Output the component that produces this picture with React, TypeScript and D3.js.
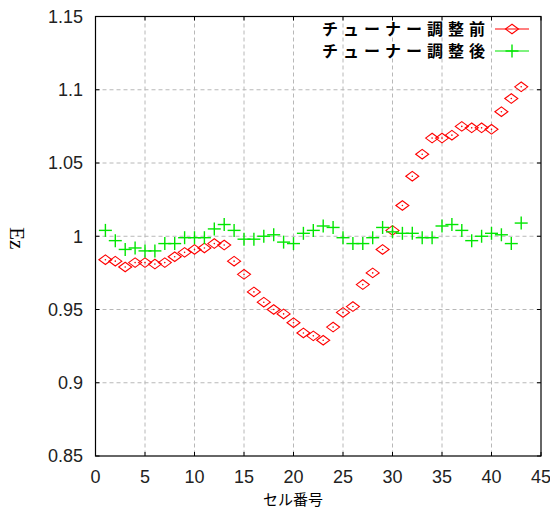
import React from "react";
import * as d3 from "d3";

// チューナー調整前 / 調整後 の Ez (セル番号 1..43)
const before = [
  0.984, 0.983, 0.979, 0.982, 0.982, 0.981, 0.982, 0.986, 0.989, 0.991, 0.992, 0.995, 0.994,
  0.983, 0.974, 0.962, 0.955, 0.95, 0.947, 0.941, 0.934, 0.932, 0.929,
  0.938, 0.948, 0.952, 0.967, 0.975, 0.991, 1.004, 1.021, 1.041, 1.056,
  1.067, 1.067, 1.069, 1.075, 1.074, 1.074, 1.073, 1.085, 1.094, 1.102,
];
const after = [
  1.004, 0.997, 0.991, 0.992, 0.99, 0.99, 0.995, 0.995, 0.999, 0.999, 0.999, 1.005, 1.008, 1.004,
  0.998, 0.998, 1.0, 1.001, 0.996, 0.995, 1.002, 1.004, 1.007, 1.006,
  0.999, 0.995, 0.995, 0.999, 1.006, 1.003, 1.002, 1.002, 0.999, 0.999,
  1.007, 1.008, 1.004, 0.997, 1.0, 1.002, 1.001, 0.995, 1.009,
];
const cells = before.map((_, i) => i + 1);

const xTicks = [0, 5, 10, 15, 20, 25, 30, 35, 40, 45];
const yTicks = [0.85, 0.9, 0.95, 1, 1.05, 1.1, 1.15];
const yTickLabels = ["0.85", "0.9", "0.95", "1", "1.05", "1.1", "1.15"];
const legendLabels = ["チューナー調整前", "チューナー調整後"];

const RED = "#ff0000";
const GREEN = "#00e600";

const W = 550;
const H = 509;
const left = 95.5;
const right = 541;
const top = 16.5;
const bottom = 456;

const x = d3.scaleLinear().domain([0, 45]).range([left, right]);
const y = d3.scaleLinear().domain([0.85, 1.15]).range([bottom, top]);

const diamond = (cx: number, cy: number) =>
  `M${cx - 6.5},${cy}L${cx},${cy - 4.8}L${cx + 6.5},${cy}L${cx},${cy + 4.8}Z`;

const Cross = ({ cx, cy }: { cx: number; cy: number }) => (
  <g stroke={GREEN} strokeWidth={1.4}>
    <line x1={cx - 6.5} x2={cx + 6.5} y1={cy} y2={cy} />
    <line x1={cx} x2={cx} y1={cy - 6.5} y2={cy + 6.5} />
  </g>
);

export default function App() {
  const tickFont = "'Liberation Sans', Arial, sans-serif";
  const cjkFont = "'Noto Sans CJK JP', sans-serif";
  return (
    <svg
      width={W}
      height={H}
      style={{ position: "absolute", left: 0, top: 0, background: "#fff" }}
    >
      <rect width={W} height={H} fill="#fff" />

      {/* grid */}
      <g stroke="#b8b8b8" strokeDasharray="4,3" strokeWidth={1}>
        {xTicks.slice(1, -1).map((t) => (
          <line key={"gx" + t} x1={x(t)} x2={x(t)} y1={top} y2={bottom} />
        ))}
        {yTicks.slice(1, -1).map((t) => (
          <line key={"gy" + t} x1={left} x2={right} y1={y(t)} y2={y(t)} />
        ))}
      </g>

      {/* ticks */}
      <g stroke="#000" strokeWidth={1}>
        {xTicks.map((t) => (
          <g key={"tx" + t}>
            <line x1={x(t)} x2={x(t)} y1={bottom} y2={bottom - 4} />
            <line x1={x(t)} x2={x(t)} y1={top} y2={top + 4} />
          </g>
        ))}
        {yTicks.map((t) => (
          <g key={"ty" + t}>
            <line x1={left} x2={left + 4} y1={y(t)} y2={y(t)} />
            <line x1={right} x2={right - 4} y1={y(t)} y2={y(t)} />
          </g>
        ))}
      </g>

      {/* data: before */}
      <g fill="none" stroke={RED} strokeWidth={1.1}>
        {before.map((v, i) => (
          <path key={"b" + i} d={diamond(x(cells[i]), y(v))} />
        ))}
      </g>
      <g fill={RED}>
        {before.map((v, i) => (
          <circle key={"bd" + i} cx={x(cells[i])} cy={y(v)} r={0.8} />
        ))}
      </g>

      {/* data: after */}
      {after.map((v, i) => (
        <Cross key={"a" + i} cx={x(cells[i])} cy={y(v)} />
      ))}

      {/* frame */}
      <rect
        x={left}
        y={top}
        width={right - left}
        height={bottom - top}
        fill="none"
        stroke="#000"
        strokeWidth={1.2}
      />

      {/* tick labels */}
      <g fontFamily={tickFont} fontSize={18} fill="#222">
        {yTicks.map((t, i) => (
          <text key={"ly" + t} x={83} y={y(t)} dy="0.35em" textAnchor="end">
            {yTickLabels[i]}
          </text>
        ))}
        {xTicks.map((t) => (
          <text key={"lx" + t} x={x(t)} y={483} textAnchor="middle">
            {t}
          </text>
        ))}
      </g>

      {/* axis titles */}
      <text
        x={293}
        y={504.5}
        textAnchor="middle"
        fontFamily={cjkFont}
        fontSize={15}
        fill="#000"
      >
        セル番号
      </text>
      <text
        transform={`translate(17,${(top + bottom) / 2 + 2}) rotate(90)`}
        textAnchor="middle"
        dy="0.35em"
        fontFamily="'Liberation Serif', 'Times New Roman', serif"
        fontSize={21}
        fill="#000"
      >
        Ez
      </text>

      {/* legend */}
      {legendLabels.map((label, i) => {
        const ly = 29 + i * 22;
        const color = i === 0 ? RED : GREEN;
        return (
          <g key={"lg" + i}>
            <text
              x={490}
              y={ly}
              dy="0.36em"
              textAnchor="end"
              fontFamily={cjkFont}
              fontWeight="bold"
              fontSize={16}
              letterSpacing={5}
              fill="#000"
            >
              {label}
            </text>
            <line x1={495} x2={529} y1={ly} y2={ly} stroke={color} strokeWidth={1.2} />
            {i === 0 ? (
              <path d={diamond(512, ly)} fill="none" stroke={RED} strokeWidth={1.1} />
            ) : (
              <Cross cx={512} cy={ly} />
            )}
          </g>
        );
      })}
    </svg>
  );
}
